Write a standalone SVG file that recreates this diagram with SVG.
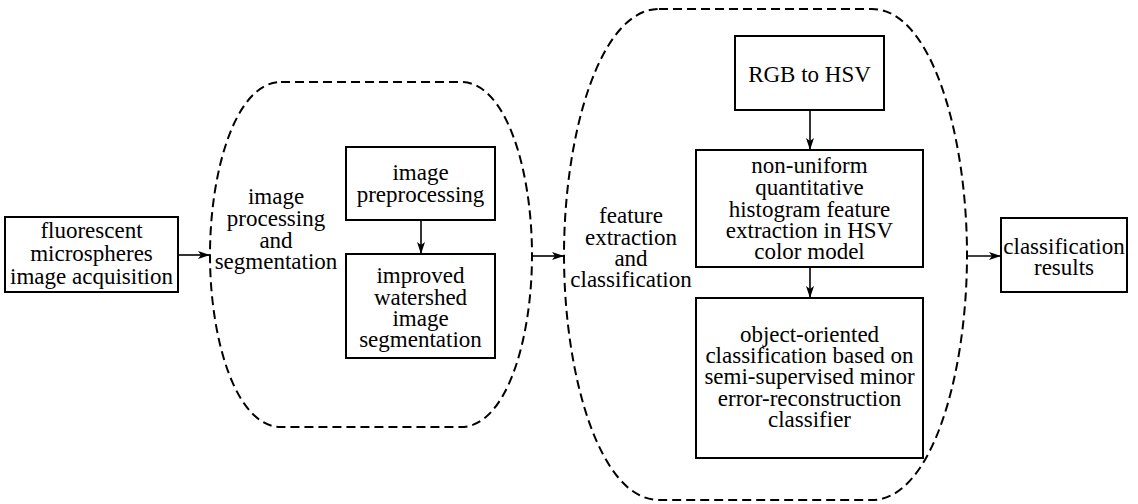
<svg xmlns="http://www.w3.org/2000/svg" width="1138" height="504" viewBox="0 0 1138 504">
<style>
.box{fill:#fff;stroke:#000;stroke-width:2}
.grp{fill:none;stroke:#000;stroke-width:2;stroke-dasharray:9 5}
.t{font-family:"Liberation Serif","Times New Roman",serif;font-size:23px;fill:#000;text-anchor:middle}
.c{stroke:#000;stroke-width:1.6;fill:none}
</style>
<defs>
<marker id="ah" viewBox="0 0 12 8" refX="12" refY="4" markerWidth="12" markerHeight="8" markerUnits="userSpaceOnUse" orient="auto">
<path d="M0,0 L12,4 L0,8 L3,4 z" fill="#000"/>
</marker>
</defs>
<rect width="1138" height="504" fill="#fff"/>
<g id="group-processing">
<path class="grp" d="M281,82 L461,82 C506,82 532,170 532,255 C532,340 506,427 461,427 L281,427 C236,427 210,340 210,255 C210,170 236,82 281,82 Z"/>
<text class="t" x="276" y="204">image</text>
<text class="t" x="276" y="226">processing</text>
<text class="t" x="276" y="248">and</text>
<text class="t" x="276" y="269">segmentation</text>
</g>
<g id="group-feature">
<path class="grp" d="M659,9 L872,9 C931,9 967,134 967,255 C967,376 931,500 872,500 L659,500 C600,500 564,376 564,255 C564,134 600,9 659,9 Z"/>
<text class="t" x="631" y="223">feature</text>
<text class="t" x="631" y="245">extraction</text>
<text class="t" x="631" y="266">and</text>
<text class="t" x="631" y="287">classification</text>
</g>
<g id="node-acquisition">
<rect class="box" x="5" y="217" width="173" height="75"/>
<text class="t" x="91.5" y="238">fluorescent</text>
<text class="t" x="91.5" y="261">microspheres</text>
<text class="t" x="91.5" y="284">image acquisition</text>
</g>
<g id="node-preprocessing">
<rect class="box" x="346" y="147" width="149" height="73"/>
<text class="t" x="420.5" y="180">image</text>
<text class="t" x="420.5" y="202">preprocessing</text>
</g>
<g id="node-watershed">
<rect class="box" x="346" y="254" width="149" height="104"/>
<text class="t" x="420.5" y="283">improved</text>
<text class="t" x="420.5" y="305">watershed</text>
<text class="t" x="420.5" y="326">image</text>
<text class="t" x="420.5" y="347">segmentation</text>
</g>
<g id="node-rgb">
<rect class="box" x="735" y="36" width="149" height="74"/>
<text class="t" x="809.5" y="82">RGB to HSV</text>
</g>
<g id="node-histogram">
<rect class="box" x="696" y="150" width="227" height="117"/>
<text class="t" x="809.5" y="173">non-uniform</text>
<text class="t" x="809.5" y="195">quantitative</text>
<text class="t" x="809.5" y="217">histogram feature</text>
<text class="t" x="809.5" y="238">extraction in HSV</text>
<text class="t" x="809.5" y="259">color model</text>
</g>
<g id="node-classifier">
<rect class="box" x="696" y="298" width="227" height="160"/>
<text class="t" x="809.5" y="342">object-oriented</text>
<text class="t" x="809.5" y="363">classification based on</text>
<text class="t" x="809.5" y="384">semi-supervised minor</text>
<text class="t" x="809.5" y="406">error-reconstruction</text>
<text class="t" x="809.5" y="427">classifier</text>
</g>
<g id="node-results">
<rect class="box" x="1001" y="218" width="126" height="74"/>
<text class="t" x="1064" y="254">classification</text>
<text class="t" x="1064" y="275">results</text>
</g>
<g id="connectors">
<line class="c" x1="178" y1="255" x2="210" y2="255" marker-end="url(#ah)"/>
<line class="c" x1="532" y1="256" x2="564" y2="256" marker-end="url(#ah)"/>
<line class="c" x1="967" y1="256" x2="1001" y2="256" marker-end="url(#ah)"/>
<line class="c" x1="421" y1="220" x2="421" y2="254" marker-end="url(#ah)"/>
<line class="c" x1="810" y1="110" x2="810" y2="150" marker-end="url(#ah)"/>
<line class="c" x1="810" y1="267" x2="810" y2="298" marker-end="url(#ah)"/>
</g>
</svg>
